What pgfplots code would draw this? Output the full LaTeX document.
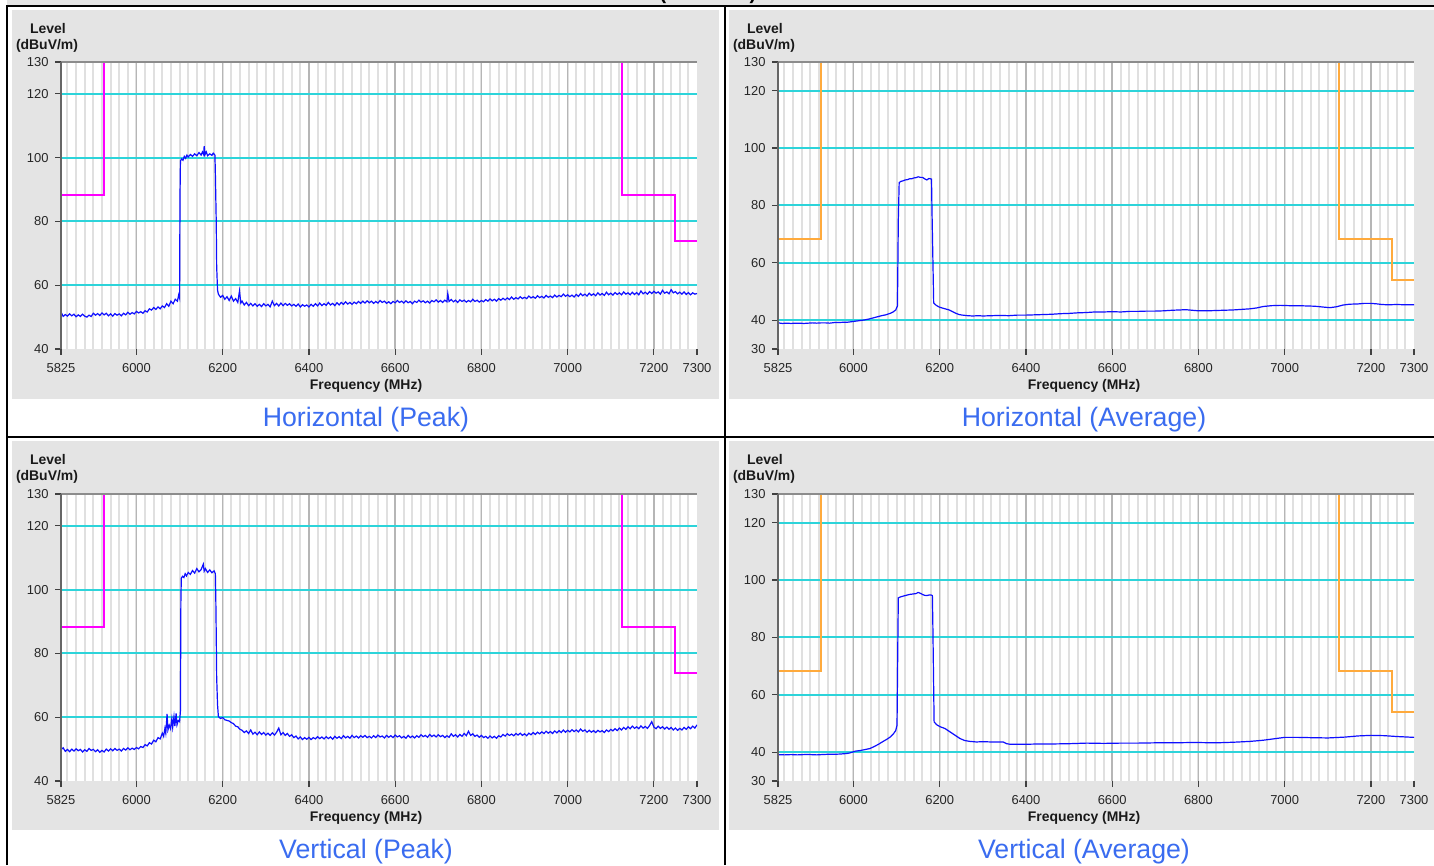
\documentclass[border=0pt]{standalone}
\usepackage{pgfplots}
\pgfplotsset{compat=1.18}
\usepackage{fontspec}
\setmainfont{Liberation Sans}
\definecolor{mingray}{RGB}{224,224,224}
\definecolor{majgray}{RGB}{182,182,182}
\definecolor{gridcyan}{RGB}{45,212,218}
\definecolor{panelgray}{RGB}{228,228,228}
\definecolor{tracecol}{RGB}{15,15,255}
\definecolor{limpk}{RGB}{255,0,255}
\definecolor{limav}{RGB}{255,170,60}
\definecolor{capblue}{RGB}{58,108,240}
\newcommand\ticklbl{\fontsize{13}{15}\selectfont}
\newcommand\lvlfont{\fontsize{14}{16}\selectfont\bfseries}
\newcommand\capfont{\fontsize{26.8}{31}\selectfont}
\tikzset{cyanline/.style={draw=gridcyan, line width=2bp}}
\pgfplotsset{
 emc/.style={
  scale only axis, width=636bp, height=287bp,
  xmin=5825, xmax=7300,
  axis background/.style={fill=white},
  axis line style={draw=none},
  xtick={6000,6200,...,7200},
  minor xtick={5840,5860,...,7280},
  extra x ticks={5825,7300},
  extra x tick style={grid=none},
  xmajorgrids, xminorgrids,
  major x grid style={draw=majgray, line width=1.5bp},
  minor x grid style={draw=mingray, line width=2bp},
  tick align=outside, xtick pos=bottom, ytick pos=left,
  major tick length=6bp, minor tick length=0bp,
  tick style={draw=black!75, line width=1.2bp},
  ticklabel style={font=\ticklbl, text=black!85},
  xticklabel style={yshift=-4.5bp},
  yticklabel style={xshift=-3bp},
  /pgf/number format/assume math mode=true,
  /pgf/number format/set thousands separator={},
  scaled ticks=false,
 },
 trace/.style={draw=tracecol, line width=1.2bp, mark=none},
 limpeak/.style={draw=limpk, line width=2bp, mark=none},
 limavg/.style={draw=limav, line width=2bp, mark=none},
}
\pgfplotstableread{
x y
5825 51.6
5830 50.2
5835 50.8
5840 50.3
5845 51.0
5850 50.4
5855 50.9
5860 50.1
5865 50.7
5870 50.2
5875 50.9
5880 50.3
5885 50.0
5890 50.6
5895 50.2
5900 51.2
5905 50.6
5910 51.1
5915 50.5
5920 51.3
5925 50.7
5930 51.2
5935 50.4
5940 51.0
5945 50.3
5950 51.1
5955 50.6
5960 51.0
5965 50.4
5970 51.2
5975 50.7
5980 51.5
5985 50.9
5990 51.4
5995 51.0
6000 51.8
6005 51.3
6010 51.7
6015 51.2
6020 52.0
6025 51.6
6030 52.6
6035 52.2
6040 53.0
6045 52.4
6050 53.2
6055 52.6
6060 53.5
6065 53.0
6070 54.2
6075 53.4
6080 55.0
6085 54.2
6090 55.6
6095 55.0
6098 57.0
6100 56.0
6101 88.0
6102 99.0
6105 99.6
6108 99.2
6111 100.4
6114 99.8
6117 100.8
6120 100.2
6125 101.0
6130 100.4
6135 101.2
6140 100.6
6145 101.6
6150 100.8
6153 101.8
6156 100.9
6157 103.6
6159 101.0
6162 101.8
6165 100.6
6170 101.2
6175 100.7
6178 101.4
6182 100.8
6183 95.0
6185 80.0
6186 66.0
6188 58.5
6190 57.2
6195 56.2
6200 56.8
6205 55.6
6210 56.4
6215 55.2
6220 56.6
6225 55.0
6230 55.8
6235 54.6
6239 58.2
6242 54.4
6245 55.0
6250 53.8
6255 54.6
6260 53.6
6265 54.3
6270 53.5
6275 54.2
6280 53.4
6285 54.0
6290 53.3
6295 54.2
6300 53.5
6305 54.0
6310 53.2
6315 55.0
6320 53.6
6325 54.3
6330 53.5
6335 54.4
6340 53.6
6345 54.3
6350 53.7
6355 54.2
6360 53.5
6365 54.0
6370 53.4
6375 54.1
6380 53.2
6385 53.9
6390 53.4
6395 53.8
6400 53.2
6405 54.0
6410 53.4
6415 54.2
6420 53.5
6425 54.4
6430 53.6
6435 54.2
6440 53.7
6445 54.6
6450 53.8
6455 54.3
6460 53.6
6465 54.5
6470 53.8
6475 54.6
6480 54.0
6485 54.8
6490 54.1
6495 54.6
6500 54.0
6505 54.7
6510 54.2
6515 54.9
6520 54.3
6525 55.0
6530 54.4
6535 55.1
6540 54.5
6545 55.0
6550 54.3
6555 54.9
6560 54.4
6565 55.2
6570 54.6
6575 55.0
6580 54.3
6585 54.8
6590 54.2
6595 54.9
6600 54.5
6605 55.2
6610 54.6
6615 55.0
6620 54.4
6625 55.1
6630 54.5
6635 54.9
6640 54.2
6645 55.0
6650 54.6
6655 55.3
6660 54.7
6665 55.1
6670 54.5
6675 55.0
6680 54.4
6685 55.2
6690 54.8
6695 55.4
6700 54.7
6705 55.2
6710 54.6
6715 55.3
6720 54.8
6722 57.4
6725 54.9
6730 55.5
6735 54.8
6740 55.3
6745 54.6
6750 55.4
6755 54.9
6760 55.3
6765 54.7
6770 55.2
6775 54.8
6780 55.6
6785 54.9
6790 55.3
6795 54.7
6800 55.2
6805 54.8
6810 55.5
6815 55.0
6820 55.7
6825 55.1
6830 55.6
6835 55.0
6840 55.8
6845 55.3
6850 55.9
6855 55.4
6860 56.0
6865 55.5
6870 56.3
6875 55.6
6880 56.1
6885 55.7
6890 56.4
6895 55.8
6900 56.2
6905 55.8
6910 56.6
6915 56.0
6920 56.4
6925 55.9
6930 56.7
6935 56.1
6940 56.5
6945 56.0
6950 56.8
6955 56.2
6960 56.6
6965 56.1
6970 56.9
6975 56.3
6980 56.8
6985 56.4
6990 57.2
6995 56.5
7000 57.0
7005 56.4
7010 56.9
7015 56.3
7020 57.1
7025 56.5
7030 57.4
7035 56.7
7040 57.2
7045 56.6
7050 57.5
7055 56.8
7060 57.3
7065 56.7
7070 57.6
7075 56.9
7080 57.4
7085 56.8
7090 57.8
7095 57.0
7100 57.5
7105 56.9
7110 57.7
7115 57.1
7120 57.6
7125 57.0
7130 57.9
7135 57.2
7140 57.6
7145 57.0
7150 57.8
7155 57.1
7160 57.7
7165 57.0
7170 58.2
7175 57.3
7180 57.8
7185 57.2
7190 58.0
7195 57.4
7200 58.1
7205 57.5
7210 57.9
7215 57.2
7220 58.4
7225 57.5
7230 57.9
7235 57.3
7240 58.6
7245 57.6
7250 58.0
7255 57.3
7260 57.8
7265 57.2
7270 57.9
7275 57.1
7280 57.7
7285 57.0
7290 57.6
7295 57.2
7300 57.4
}\hpeak
\pgfplotstableread{
x y
5825 49.8
5830 50.4
5835 49.3
5840 49.9
5845 49.2
5850 50.0
5855 49.4
5860 50.1
5865 49.5
5870 49.9
5875 49.1
5880 49.8
5885 49.3
5890 50.2
5895 49.6
5900 49.9
5905 49.2
5910 49.8
5915 49.0
5920 49.6
5925 49.1
5930 50.0
5935 49.4
5940 50.1
5945 49.5
5950 50.2
5955 49.6
5960 50.0
5965 49.4
5970 50.2
5975 49.7
5980 50.4
5985 49.8
5990 50.3
5995 49.9
6000 50.5
6005 50.1
6010 50.8
6015 50.5
6020 51.4
6025 51.0
6030 52.0
6035 51.6
6040 52.8
6045 52.3
6050 53.6
6055 53.2
6060 55.0
6063 54.0
6066 56.5
6068 55.0
6071 61.0
6073 56.0
6076 57.5
6079 56.4
6082 59.5
6084 56.8
6087 60.2
6089 57.2
6092 61.2
6094 57.6
6097 59.0
6100 58.6
6102 62.0
6103 96.0
6104 103.6
6107 104.2
6110 103.8
6113 105.0
6116 104.3
6120 105.4
6125 104.8
6130 106.0
6135 105.2
6140 106.6
6145 105.6
6150 106.3
6155 108.0
6157 105.8
6160 106.6
6165 105.4
6170 106.2
6175 105.3
6180 105.9
6183 105.0
6184 97.6
6185 86.0
6186 72.6
6188 64.0
6190 60.2
6195 59.6
6200 59.9
6205 59.2
6210 59.0
6215 58.8
6220 58.3
6225 58.0
6230 57.2
6235 57.0
6240 56.2
6245 55.9
6250 55.2
6255 55.7
6260 54.9
6265 56.0
6270 54.7
6275 55.3
6280 54.5
6285 55.4
6290 54.6
6295 55.2
6300 54.4
6305 55.0
6310 54.3
6315 55.1
6320 54.4
6325 55.3
6330 56.6
6335 54.5
6340 55.2
6345 54.3
6350 54.9
6355 54.0
6360 54.5
6365 53.6
6370 54.1
6375 53.2
6380 53.8
6385 53.0
6390 53.6
6395 53.1
6400 53.7
6405 53.0
6410 53.6
6415 53.2
6420 53.9
6425 53.3
6430 53.8
6435 53.2
6440 53.9
6445 53.3
6450 53.8
6455 53.1
6460 54.0
6465 53.4
6470 53.9
6475 53.3
6480 54.2
6485 53.5
6490 54.0
6495 53.4
6500 54.3
6505 53.6
6510 54.1
6515 53.5
6520 54.2
6525 53.7
6530 54.3
6535 53.6
6540 54.0
6545 53.5
6550 54.2
6555 53.6
6560 54.4
6565 53.8
6570 54.1
6575 53.5
6580 54.3
6585 53.7
6590 54.2
6595 53.6
6600 54.4
6605 53.8
6610 54.2
6615 53.5
6620 54.0
6625 53.4
6630 54.3
6635 53.6
6640 54.1
6645 53.5
6650 54.2
6655 53.7
6660 54.5
6665 53.9
6670 54.3
6675 53.7
6680 54.6
6685 53.9
6690 54.4
6695 53.8
6700 54.5
6705 53.9
6710 54.3
6715 53.6
6720 54.2
6725 53.7
6730 54.8
6735 54.0
6740 54.5
6745 53.8
6750 54.6
6755 54.0
6760 54.9
6765 54.2
6770 55.6
6775 54.3
6780 54.8
6785 54.0
6790 54.4
6795 53.7
6800 54.3
6805 53.6
6810 54.0
6815 53.4
6820 54.1
6825 53.5
6830 54.0
6835 53.4
6840 54.2
6845 53.8
6850 54.6
6855 54.1
6860 54.8
6865 54.3
6870 54.7
6875 54.2
6880 54.9
6885 54.4
6890 55.0
6895 54.3
6900 54.8
6905 54.2
6910 55.0
6915 54.5
6920 55.2
6925 54.6
6930 55.3
6935 54.8
6940 55.4
6945 54.9
6950 55.6
6955 55.0
6960 55.5
6965 54.9
6970 55.7
6975 55.1
6980 55.8
6985 55.2
6990 56.0
6995 55.3
7000 55.9
7005 55.4
7010 56.1
7015 55.5
7020 56.0
7025 55.4
7030 56.3
7035 55.6
7040 56.0
7045 55.3
7050 55.9
7055 55.3
7060 55.8
7065 55.2
7070 55.9
7075 55.4
7080 55.8
7085 55.2
7090 56.0
7095 55.5
7100 56.2
7105 55.7
7110 56.4
7115 55.8
7120 56.6
7125 56.0
7130 56.8
7135 56.2
7140 57.0
7145 56.4
7150 57.2
7155 56.5
7160 57.0
7165 56.4
7170 57.3
7175 56.6
7180 57.1
7185 56.5
7190 57.4
7195 58.6
7200 56.9
7205 56.4
7210 57.2
7215 56.5
7220 57.0
7225 56.3
7230 56.9
7235 56.2
7240 56.8
7245 56.0
7250 56.6
7255 55.9
7260 56.5
7265 56.0
7270 56.8
7275 56.2
7280 57.0
7285 56.4
7290 57.2
7295 56.6
7300 57.6
}\vpeak
\pgfplotstableread{
x y
5825 39.1
5835 38.9
5845 39.0
5855 38.9
5865 39.0
5875 39.0
5885 38.9
5895 39.0
5905 39.1
5915 39.0
5925 39.1
5935 39.1
5945 39.0
5955 39.2
5965 39.2
5975 39.3
5985 39.3
5995 39.5
6005 39.7
6015 39.9
6025 40.1
6035 40.4
6045 40.8
6055 41.2
6065 41.6
6075 41.9
6085 42.4
6092 42.9
6098 43.6
6102 45.0
6104 75.0
6106 88.0
6110 88.4
6115 88.6
6120 88.9
6125 89.0
6130 89.3
6135 89.3
6140 89.6
6145 89.7
6150 90.0
6155 89.8
6160 89.8
6165 89.3
6170 88.9
6175 89.4
6181 89.2
6182 79.0
6186 46.0
6192 45.2
6199 44.6
6210 44.1
6222 43.6
6230 43.0
6238 42.4
6245 42.0
6253 41.8
6265 41.6
6276 41.5
6290 41.6
6300 41.5
6320 41.6
6340 41.7
6360 41.6
6380 41.8
6400 41.8
6420 41.9
6440 42.0
6460 42.1
6480 42.3
6500 42.4
6520 42.6
6540 42.7
6560 42.9
6580 42.9
6600 43.0
6620 42.9
6640 43.1
6660 43.1
6680 43.2
6700 43.2
6720 43.3
6740 43.5
6757 43.6
6770 43.7
6785 43.5
6800 43.3
6820 43.3
6840 43.4
6860 43.5
6880 43.6
6900 43.8
6920 44.0
6935 44.3
6950 44.8
6970 45.1
6990 45.2
7010 45.1
7030 45.1
7050 45.0
7070 44.9
7090 44.6
7105 44.4
7120 44.7
7135 45.3
7150 45.6
7170 45.7
7185 45.9
7200 45.9
7215 45.7
7225 45.5
7240 45.4
7260 45.5
7280 45.4
7300 45.4
}\havg
\pgfplotstableread{
x y
5825 39.2
5840 39.1
5855 39.2
5870 39.1
5885 39.2
5900 39.2
5915 39.1
5926 39.2
5940 39.3
5955 39.3
5970 39.4
5985 39.6
5992 39.8
6004 40.4
6015 40.6
6025 40.9
6038 41.3
6048 42.0
6058 42.8
6069 43.8
6078 44.6
6086 45.4
6093 46.5
6098 47.6
6101 49.4
6103 80.0
6104 93.8
6110 94.2
6115 94.4
6120 94.6
6125 94.8
6130 95.0
6135 95.1
6140 95.2
6145 95.3
6150 95.7
6155 95.4
6160 95.0
6165 94.7
6170 94.6
6175 94.8
6180 94.8
6183 94.6
6184 85.3
6187 50.6
6193 49.6
6201 48.9
6212 48.3
6224 47.1
6235 46.0
6247 44.8
6258 44.1
6270 43.8
6285 43.6
6300 43.7
6320 43.6
6347 43.6
6355 43.0
6363 42.8
6380 42.8
6400 42.8
6430 42.9
6460 42.9
6500 43.0
6541 43.2
6580 43.1
6620 43.2
6660 43.2
6700 43.3
6740 43.3
6780 43.4
6800 43.4
6840 43.3
6880 43.5
6920 43.8
6950 44.2
6980 44.8
7000 45.2
7030 45.2
7060 45.1
7100 45.0
7140 45.3
7170 45.7
7200 45.9
7230 45.8
7260 45.5
7300 45.2
}\vavg
\begin{document}
\begin{tikzpicture}[x=1bp,y=1bp]
\useasboundingbox (0,0) rectangle (1434,865);
\fill[white] (0,0) rectangle (1434,865);
% header strip
\fill[panelgray] (7,859) rectangle (1434,865);
\begin{scope}
\clip (7,859) rectangle (1434,865);
\node[font=\fontsize{20}{24}\selectfont\bfseries, anchor=base] at (663,865.5) {(};
\node[font=\fontsize{20}{24}\selectfont\bfseries, anchor=base] at (753,865.5) {)};
\end{scope}
% gray panels
\fill[panelgray] (12,466) rectangle (719,855);
\fill[panelgray] (729,466) rectangle (1434,855);
\fill[panelgray] (12,35) rectangle (719,424);
\fill[panelgray] (729,35) rectangle (1434,424);
% table lines
\draw[line width=2bp, black] (7,0) -- (7,859) -- (1434,859);
\draw[line width=2bp, black] (7,428) -- (1434,428);
\draw[line width=2bp, black] (725,0) -- (725,859);

% ---------- top-left: Horizontal (Peak)
\begin{axis}[emc, at={(61bp,516bp)}, anchor=south west,
  ymin=40, ymax=130, ytick={60,80,100,120}, extra y ticks={40,130}]
\pgfplotsinvokeforeach{60,80,100,120}{\draw[cyanline] (axis cs:5825,#1) -- (axis cs:7300,#1);}
\addplot[limpeak] coordinates {(5825,88.2) (5925,88.2) (5925,130)};
\addplot[limpeak] coordinates {(7125,130) (7125,88.2) (7250,88.2) (7250,74) (7300,74)};
\addplot[trace] table[x=x,y=y] {\hpeak};
\end{axis}
% ---------- top-right: Horizontal (Average)
\begin{axis}[emc, at={(778bp,516bp)}, anchor=south west,
  ymin=30, ymax=130, ytick={40,60,80,100,120}, extra y ticks={30,130}]
\pgfplotsinvokeforeach{40,60,80,100,120}{\draw[cyanline] (axis cs:5825,#1) -- (axis cs:7300,#1);}
\addplot[limavg] coordinates {(5825,68.2) (5925,68.2) (5925,130)};
\addplot[limavg] coordinates {(7125,130) (7125,68.2) (7250,68.2) (7250,54) (7300,54)};
\addplot[trace] table[x=x,y=y] {\havg};
\end{axis}
% ---------- bottom-left: Vertical (Peak)
\begin{axis}[emc, at={(61bp,84bp)}, anchor=south west,
  ymin=40, ymax=130, ytick={60,80,100,120}, extra y ticks={40,130}]
\pgfplotsinvokeforeach{60,80,100,120}{\draw[cyanline] (axis cs:5825,#1) -- (axis cs:7300,#1);}
\addplot[limpeak] coordinates {(5825,88.2) (5925,88.2) (5925,130)};
\addplot[limpeak] coordinates {(7125,130) (7125,88.2) (7250,88.2) (7250,74) (7300,74)};
\addplot[trace] table[x=x,y=y] {\vpeak};
\end{axis}
% ---------- bottom-right: Vertical (Average)
\begin{axis}[emc, at={(778bp,84bp)}, anchor=south west,
  ymin=30, ymax=130, ytick={40,60,80,100,120}, extra y ticks={30,130}]
\pgfplotsinvokeforeach{40,60,80,100,120}{\draw[cyanline] (axis cs:5825,#1) -- (axis cs:7300,#1);}
\addplot[limavg] coordinates {(5825,68.2) (5925,68.2) (5925,130)};
\addplot[limavg] coordinates {(7125,130) (7125,68.2) (7250,68.2) (7250,54) (7300,54)};
\addplot[trace] table[x=x,y=y] {\vavg};
\end{axis}

% frames (left axis and top border)
\foreach \ox/\oy in {61/516, 778/516, 61/84, 778/84}{
  \draw[draw=black!45, line width=1.3bp] (\ox,\oy+287) -- (\ox+636,\oy+287);
  \draw[draw=black!60, line width=1.5bp] (\ox,\oy) -- (\ox,\oy+287);
}
% titles
\foreach \lx/\ly in {48/831.7, 765/831.7, 48/400.7, 765/400.7}{
  \node[font=\lvlfont, text=black!90, anchor=base, inner sep=0pt] at (\lx,\ly) {Level};
  \node[font=\lvlfont, text=black!90, anchor=base, inner sep=0pt] at (\lx-1,\ly-16.7) {(dBuV/m)};
}
\foreach \fx/\fy in {366/475, 1084/475, 366/44, 1084/44}{
  \node[font=\lvlfont, text=black!90, anchor=base, inner sep=0pt] at (\fx,\fy) {Frequency (MHz)};
}
\node[font=\capfont, text=capblue, anchor=base, inner sep=0pt] at (366,438) {Horizontal (Peak)};
\node[font=\capfont, text=capblue, anchor=base, inner sep=0pt] at (1084,438) {Horizontal (Average)};
\node[font=\capfont, text=capblue, anchor=base, inner sep=0pt] at (366,7) {Vertical (Peak)};
\node[font=\capfont, text=capblue, anchor=base, inner sep=0pt] at (1084,7) {Vertical (Average)};
\end{tikzpicture}
\end{document}
